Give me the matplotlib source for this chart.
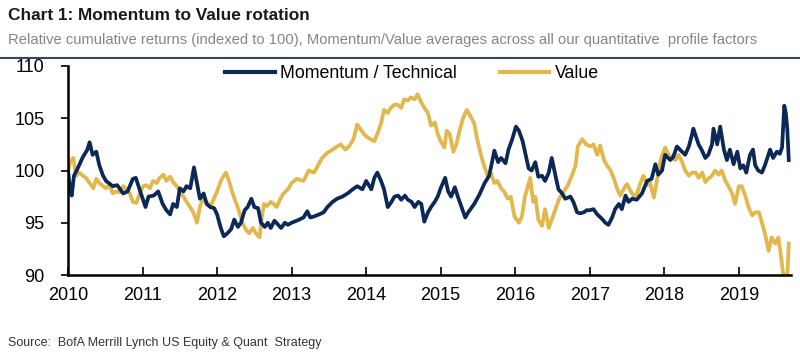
import matplotlib
matplotlib.use("Agg")
import matplotlib.pyplot as plt
from matplotlib.lines import Line2D

# Momentum / Technical (decimal year, index level)
mom_t = [2010.00, 2010.03, 2010.05, 2010.08, 2010.13, 2010.20, 2010.26, 2010.29, 2010.33, 2010.38,
         2010.42, 2010.47, 2010.51, 2010.60, 2010.66, 2010.74, 2010.80, 2010.87, 2010.91, 2010.96,
         2011.04, 2011.08, 2011.15, 2011.21, 2011.27, 2011.32, 2011.37, 2011.41, 2011.46, 2011.50,
         2011.55, 2011.59, 2011.64, 2011.69, 2011.73, 2011.77, 2011.82, 2011.86, 2011.91, 2011.96,
         2012.00, 2012.05, 2012.09, 2012.14, 2012.19, 2012.23, 2012.28, 2012.32, 2012.37, 2012.41,
         2012.46, 2012.50, 2012.55, 2012.59, 2012.64, 2012.68, 2012.72, 2012.77, 2012.82, 2012.86,
         2012.91, 2012.95, 2013.00, 2013.07, 2013.16, 2013.21, 2013.25, 2013.30, 2013.37, 2013.43,
         2013.48, 2013.55, 2013.61, 2013.68, 2013.75, 2013.82, 2013.88, 2013.95, 2014.00, 2014.07,
         2014.11, 2014.15, 2014.20, 2014.24, 2014.29, 2014.34, 2014.38, 2014.43, 2014.47, 2014.52,
         2014.56, 2014.61, 2014.65, 2014.70, 2014.74, 2014.78, 2014.83, 2014.87, 2014.92, 2014.96,
         2015.00, 2015.06, 2015.10, 2015.14, 2015.19, 2015.23, 2015.28, 2015.33, 2015.37, 2015.45,
         2015.52, 2015.59, 2015.65, 2015.68, 2015.72, 2015.77, 2015.81, 2015.87, 2015.91, 2015.96,
         2016.01, 2016.05, 2016.10, 2016.14, 2016.18, 2016.22, 2016.27, 2016.31, 2016.36, 2016.40,
         2016.45, 2016.49, 2016.54, 2016.58, 2016.63, 2016.67, 2016.74, 2016.78, 2016.83, 2016.87,
         2016.92, 2016.96, 2017.00, 2017.05, 2017.10, 2017.16, 2017.21, 2017.25, 2017.30, 2017.34,
         2017.39, 2017.43, 2017.48, 2017.52, 2017.57, 2017.63, 2017.70, 2017.77, 2017.83, 2017.88,
         2017.92, 2017.97, 2018.01, 2018.08, 2018.12, 2018.17, 2018.21, 2018.28, 2018.33, 2018.37,
         2018.39, 2018.46, 2018.50, 2018.55, 2018.59, 2018.64, 2018.66, 2018.71, 2018.75, 2018.80,
         2018.84, 2018.88, 2018.93, 2018.98, 2019.02, 2019.06, 2019.10, 2019.15, 2019.19, 2019.22,
         2019.26, 2019.31, 2019.35, 2019.42, 2019.46, 2019.51, 2019.55, 2019.58, 2019.61, 2019.63,
         2019.65, 2019.67]
mom_v = [100.0, 98.0, 97.6, 99.5, 100.2, 101.3, 102.0, 102.7, 101.5, 101.8,
         100.5, 99.5, 99.0, 98.5, 98.6, 97.8, 98.0, 99.2, 99.3, 98.2,
         96.5, 97.5, 97.6, 98.0, 96.8, 96.2, 95.8, 96.8, 96.5, 98.3,
         98.0, 98.5, 98.3, 100.3, 98.8, 97.3, 97.8, 96.8, 96.5, 96.4,
         95.8, 94.5, 93.7, 94.0, 94.4, 95.3, 94.6, 95.0, 96.2, 96.5,
         97.3, 96.5, 96.4, 95.0, 94.6, 95.0, 94.5, 95.2, 94.8, 94.5,
         95.0, 94.8, 95.0, 95.2, 95.5, 96.1, 95.5, 95.6, 95.8, 96.0,
         96.5, 97.0, 97.3, 97.5, 97.8, 98.2, 98.5, 98.2, 99.0, 98.2,
         99.3, 99.8, 99.0, 98.2, 96.5, 97.0, 97.5, 97.6, 97.2, 97.6,
         97.2, 97.0, 96.5, 97.0, 96.8, 95.1, 96.0, 96.5, 97.0, 97.5,
         98.3, 99.3, 98.0, 97.5, 98.4, 97.5, 96.5, 95.5, 96.0, 96.8,
         97.7, 98.8, 99.5, 100.5, 101.9, 100.8, 101.2, 100.7, 102.0, 103.0,
         104.2, 103.8, 102.8, 101.5, 100.2, 100.0, 100.8, 99.4, 99.5, 99.0,
         99.8, 101.2, 99.5, 98.2, 97.8, 97.3, 97.5, 97.0, 96.0, 95.9,
         96.0, 96.2, 96.2, 96.3, 95.8, 95.4, 95.0, 94.8, 95.5, 96.3,
         96.8, 96.3, 97.6, 97.0, 97.3, 97.2, 97.8, 99.0, 99.2, 100.6,
         99.6, 100.0, 101.5, 101.0, 101.3, 102.3, 102.0, 101.5, 102.3, 103.4,
         104.0, 102.5, 102.0, 101.2, 101.5, 102.5, 104.0, 102.5, 104.2, 102.0,
         101.0, 102.0, 100.6, 101.8, 100.2, 100.5, 99.8, 101.5, 102.0, 100.5,
         100.0, 99.8, 100.5, 102.0, 101.2, 101.8, 101.6, 102.2, 106.2, 105.5,
         104.0, 101.0]

# Value
val_t = [2010.00, 2010.03, 2010.07, 2010.11, 2010.15, 2010.20, 2010.24, 2010.29, 2010.34, 2010.38,
         2010.42, 2010.47, 2010.51, 2010.56, 2010.60, 2010.65, 2010.69, 2010.74, 2010.78, 2010.83,
         2010.87, 2010.92, 2010.96, 2011.01, 2011.05, 2011.10, 2011.14, 2011.19, 2011.23, 2011.28,
         2011.32, 2011.37, 2011.41, 2011.46, 2011.50, 2011.55, 2011.59, 2011.64, 2011.68, 2011.73,
         2011.77, 2011.82, 2011.86, 2011.91, 2011.95, 2012.00, 2012.05, 2012.09, 2012.12, 2012.16,
         2012.20, 2012.25, 2012.30, 2012.34, 2012.39, 2012.43, 2012.48, 2012.52, 2012.57, 2012.60,
         2012.63, 2012.67, 2012.72, 2012.76, 2012.80, 2012.85, 2012.89, 2012.95, 2013.00, 2013.07,
         2013.16, 2013.23, 2013.30, 2013.34, 2013.41, 2013.48, 2013.55, 2013.61, 2013.66, 2013.72,
         2013.77, 2013.83, 2013.88, 2013.92, 2013.97, 2014.01, 2014.06, 2014.11, 2014.15, 2014.20,
         2014.24, 2014.29, 2014.33, 2014.38, 2014.42, 2014.47, 2014.51, 2014.56, 2014.60, 2014.65,
         2014.69, 2014.74, 2014.78, 2014.83, 2014.87, 2014.92, 2014.96, 2015.00, 2015.05, 2015.08,
         2015.12, 2015.17, 2015.21, 2015.26, 2015.30, 2015.35, 2015.40, 2015.45, 2015.49, 2015.54,
         2015.58, 2015.63, 2015.67, 2015.72, 2015.76, 2015.81, 2015.85, 2015.90, 2015.94, 2015.99,
         2016.05, 2016.09, 2016.13, 2016.17, 2016.20, 2016.24, 2016.27, 2016.31, 2016.36, 2016.40,
         2016.45, 2016.50, 2016.55, 2016.59, 2016.63, 2016.70, 2016.76, 2016.81, 2016.84, 2016.90,
         2016.95, 2017.01, 2017.05, 2017.10, 2017.14, 2017.19, 2017.23, 2017.28, 2017.32, 2017.37,
         2017.41, 2017.46, 2017.50, 2017.55, 2017.59, 2017.63, 2017.68, 2017.72, 2017.77, 2017.81,
         2017.86, 2017.90, 2017.95, 2018.01, 2018.06, 2018.10, 2018.15, 2018.19, 2018.24, 2018.28,
         2018.33, 2018.37, 2018.42, 2018.46, 2018.51, 2018.55, 2018.59, 2018.64, 2018.68, 2018.73,
         2018.77, 2018.82, 2018.86, 2018.91, 2018.95, 2019.00, 2019.04, 2019.09, 2019.13, 2019.18,
         2019.22, 2019.27, 2019.31, 2019.35, 2019.40, 2019.44, 2019.49, 2019.53, 2019.55, 2019.58,
         2019.60, 2019.63, 2019.65, 2019.67]
val_v = [100.0, 100.8, 101.2, 99.5, 99.8, 99.5, 99.3, 98.8, 98.3, 99.2,
         98.8, 98.5, 98.3, 98.6, 97.8, 98.0, 97.9, 98.5, 98.2, 97.8,
         97.0, 96.9, 97.8, 98.5, 98.6, 98.3, 99.0, 98.8, 99.3, 99.6,
         99.0, 99.4, 98.9, 98.5, 98.0, 97.5, 97.0, 96.5, 96.0, 95.0,
         96.5, 97.5, 97.0, 96.5, 97.2, 98.0, 99.0, 99.5, 99.8, 99.0,
         98.0, 97.0, 96.0, 95.0, 94.3, 94.0, 94.5, 94.0, 93.6, 95.5,
         96.8, 96.6, 97.0, 96.8, 96.5, 97.3, 97.8, 98.2, 98.8, 99.2,
         99.0, 100.0, 99.8, 100.3, 101.2, 101.7, 102.0, 102.3, 102.5, 102.0,
         102.3, 103.0, 104.4, 104.0, 103.5, 103.2, 103.0, 102.8, 103.5, 104.5,
         105.8, 105.5, 106.0, 106.3, 106.3, 106.0, 106.8, 106.7, 107.0, 106.8,
         107.3, 106.5, 106.0, 105.5, 104.3, 104.6, 103.5, 102.8, 102.2, 103.8,
         103.5, 101.8, 102.5, 104.0, 105.0, 105.8, 105.2, 104.5, 103.0, 101.5,
         100.5, 99.5, 99.8, 98.8, 99.0, 98.3, 98.0, 97.3, 97.5, 95.6,
         95.0, 95.6, 97.5, 98.5, 99.3, 97.0, 97.5, 95.3, 94.7, 96.3,
         94.5, 95.5, 96.5, 97.3, 97.8, 98.5, 99.5, 100.5, 102.3, 103.0,
         102.5, 102.3, 102.5, 101.5, 102.4, 101.0, 100.5, 100.0, 99.3, 98.2,
         97.6, 98.3, 98.7, 98.0, 97.6, 97.7, 98.8, 99.5, 98.6, 98.8,
         97.4, 99.0, 101.0, 102.2, 101.5, 101.2, 101.0, 101.5, 100.8, 100.0,
         99.5, 99.8, 99.8, 99.3, 99.8, 98.9, 99.2, 99.5, 100.0, 99.6,
         100.0, 99.0, 98.5, 97.8, 96.8, 98.5, 98.5, 97.5, 96.5, 95.7,
         96.0, 96.0, 95.0, 94.0, 92.3, 93.6, 93.0, 93.6, 92.6, 91.0,
         89.8, 90.0, 89.8, 93.0]

years = list(range(2010, 2020))
y_ticks = [90, 95, 100, 105, 110]

navy = "#0b2856"
gold = "#e2b74c"
font_main = ["Liberation Sans", "DejaVu Sans"]

fig = plt.figure(figsize=(8, 3.58), dpi=100)
ax = fig.add_axes([68 / 800, 1 - 275 / 358, (791 - 68) / 800, (275 - 66) / 358])

ax.plot(val_t, val_v, color=gold, lw=2.7, solid_joinstyle="round")
ax.plot(mom_t, mom_v, color=navy, lw=2.7, solid_joinstyle="round")

ax.set_xlim(2010, 2019.7)
ax.set_ylim(90, 110)
ax.set_xticks(years)
ax.set_xticklabels([str(y) for y in years], family=font_main, fontsize=13)
ax.set_yticks(y_ticks)
ax.set_yticklabels([str(v) for v in y_ticks], family=font_main, fontsize=13)
ax.tick_params(axis="x", direction="in", length=6, width=1.2, pad=9)
ax.tick_params(axis="y", direction="out", length=5, width=1.2, pad=12)
for s in ["top", "right"]:
    ax.spines[s].set_visible(False)
for s in ["left", "bottom"]:
    ax.spines[s].set_linewidth(1.8)
    ax.spines[s].set_color("black")

handles = [Line2D([], [], color=navy, lw=3), Line2D([], [], color=gold, lw=3)]
fig.legend(handles, ["Momentum / Technical", "Value"], loc="center",
           bbox_to_anchor=(412 / 800, 1 - 74 / 358), ncol=2, frameon=False,
           prop={"family": font_main, "size": 12.8}, handlelength=2.8,
           handletextpad=0.3, columnspacing=2.4)

fig.text(8 / 800, 1 - 16 / 358, "Chart 1: Momentum to Value rotation", family=font_main,
         fontsize=12.4, fontweight="bold", va="center", ha="left", color="#1a1a1a")
fig.text(8 / 800, 1 - 40 / 358,
         "Relative cumulative returns (indexed to 100), Momentum/Value averages across all our quantitative  profile factors",
         family=font_main, fontsize=10.6, va="center", ha="left", color="#858585")
fig.add_artist(Line2D([0, 1], [1 - 57.5 / 358] * 2, color="#3a4556", lw=1.5,
                      transform=fig.transFigure))
fig.text(8 / 800, 1 - 343 / 358, "Source:  BofA Merrill Lynch US Equity & Quant  Strategy",
         family=font_main, fontsize=9.0, va="center", ha="left", color="#333333")

fig.savefig("out.png", dpi=100)
